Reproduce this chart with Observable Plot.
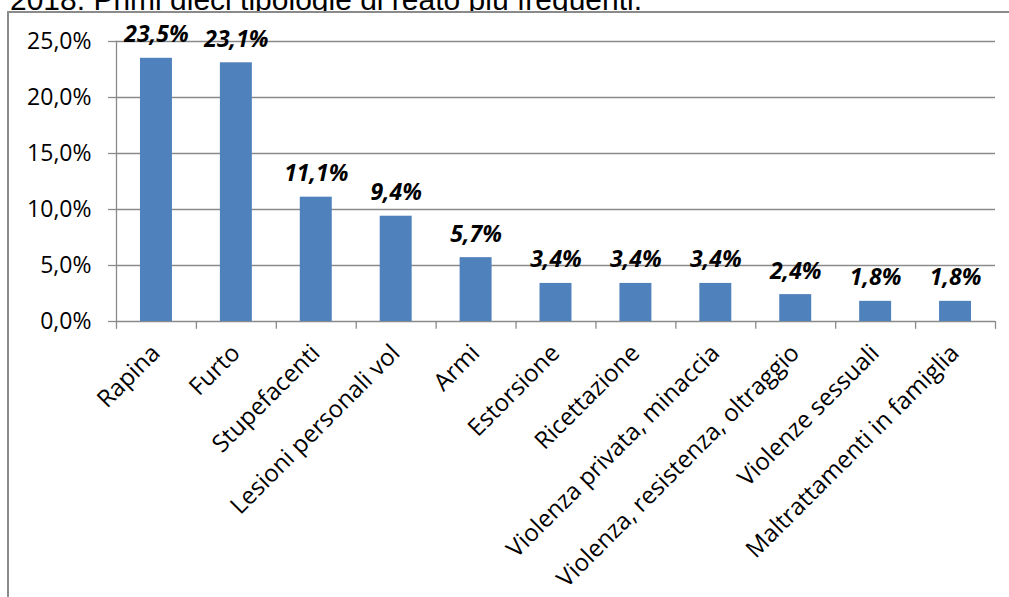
<!DOCTYPE html>
<html>
<head>
<meta charset="utf-8">
<script src="https://cdn.jsdelivr.net/npm/d3@7"></script>
<script src="https://cdn.jsdelivr.net/npm/@observablehq/plot@0.6"></script>
<style>
  html, body { margin: 0; padding: 0; background: #fff; }
  #wrap { position: relative; width: 1009px; height: 597px; overflow: hidden; }
  #title { position: absolute; left: 10px; top: -15px; line-height: 30px; font-family: "Liberation Sans", Arial, sans-serif; font-size: 30px; color: #000; white-space: nowrap; }
  #frame { position: absolute; left: 7px; top: 11px; width: 1100px; height: 700px; border: 2px solid #8a8a8a; background: #fff; }
  #chart { position: absolute; left: 0; top: 0; }
</style>
</head>
<body>
<div id="wrap">
  <div id="title">2018. Primi dieci tipologie di reato più frequenti.</div>
  <div id="frame"></div>
  <div id="chart"></div>
</div>
<script>
const categories = ["Rapina", "Furto", "Stupefacenti", "Lesioni personali vol", "Armi", "Estorsione", "Ricettazione", "Violenza privata, minaccia", "Violenza, resistenza, oltraggio", "Violenze sessuali", "Maltrattamenti in famiglia"];
const values = [23.5, 23.1, 11.1, 9.4, 5.7, 3.4, 3.4, 3.4, 2.4, 1.8, 1.8];
const yTicks = [0, 5, 10, 15, 20, 25];

const data = categories.map((c, i) => ({category: c, value: values[i]}));
const fmt = v => v.toFixed(1).replace(".", ",") + "%";
const step = (995 - 116) / categories.length;

const chart = Plot.plot({
  width: 1009,
  height: 597,
  marginLeft: 116,
  marginRight: 14,
  marginTop: 41,
  marginBottom: 276,
  style: {fontFamily: "'Open Sans', sans-serif", fontSize: "23px", color: "#000", background: "transparent"},
  x: {domain: categories, paddingInner: 0.6, paddingOuter: 0.3, round: false, axis: null},
  y: {domain: [0, 25], axis: null},
  marks: [
    Plot.ruleY(yTicks, {stroke: "#8a8a8a", strokeWidth: 1.3}),
    Plot.axisY(yTicks, {label: null, tickSize: 8, tickPadding: 17, tickFormat: fmt, stroke: "#8a8a8a", strokeWidth: 1.3, fontSize: 23, fill: "#000"}),
    Plot.frame({anchor: "left", stroke: "#8a8a8a", strokeWidth: 1.3}),
    Plot.barY(data, {x: "category", y: "value", fill: "#4f81bd"}),
    Plot.ruleX(categories, {x: d => d, y1: 0, y2: -0.7, dx: -step / 2, stroke: "#8a8a8a", strokeWidth: 1.3}),
    Plot.ruleX(categories.slice(-1), {x: d => d, y1: 0, y2: -0.7, dx: step / 2, stroke: "#8a8a8a", strokeWidth: 1.3}),
    Plot.text(data, {x: "category", y: "value", text: d => fmt(d.value), lineAnchor: "bottom", dy: -16, fontWeight: "bold", fontStyle: "italic", fontSize: 23, fill: "#000"}),
    Plot.text(categories, {x: d => d, frameAnchor: "bottom", rotate: -45, textAnchor: "end", dx: 5, dy: 33, fontSize: 24, fill: "#000"})
  ]
});
document.getElementById("chart").appendChild(chart);
</script>
</body>
</html>
